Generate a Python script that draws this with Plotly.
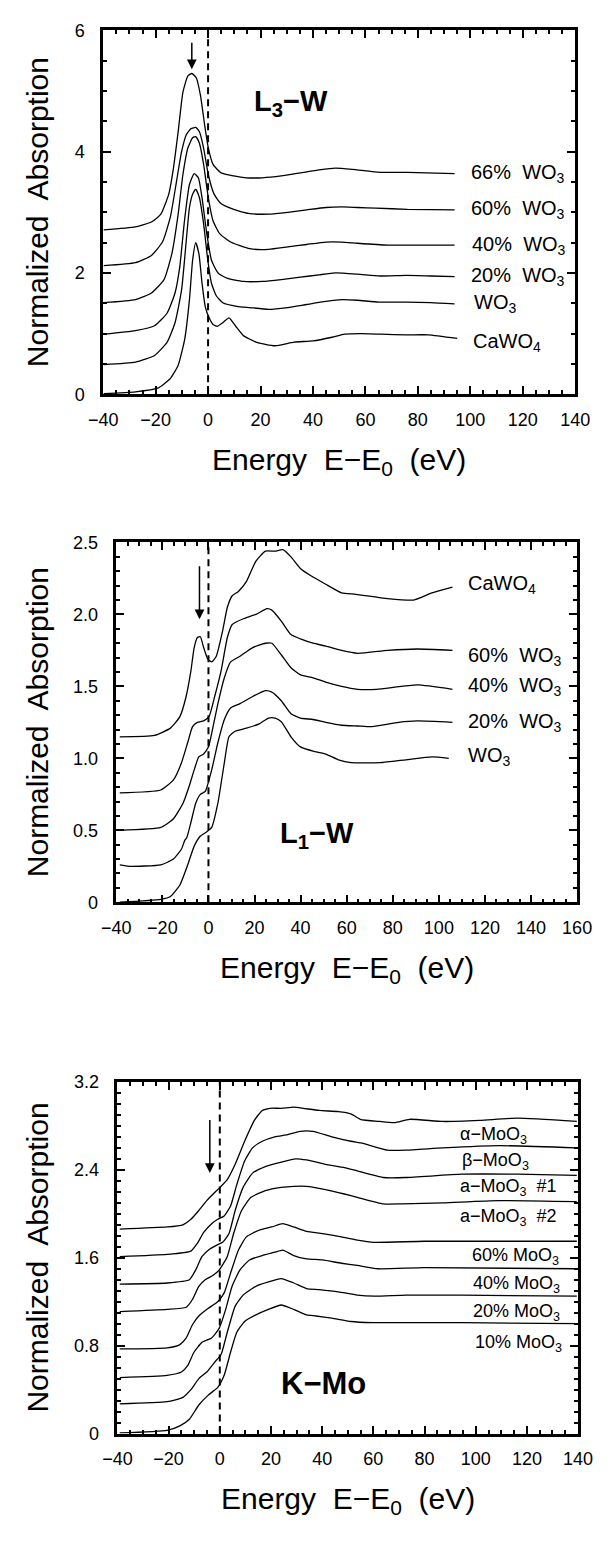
import plotly.graph_objects as go

# ---------------- Panel 1 : L3-W ----------------
L3_CaWO4_E = [-39.8, -27.7, -19.2, -14.4, -11.4, -8.9, -7.1, -5.9, -4.7, -3.5, -2.3, -1.1, 0.4, 1.9, 3.5, 5.6, 8.0, 10.4, 13.4, 18.3, 25.5, 32.8, 40.0, 47.3, 52.1, 58.0, 66.0, 75.5, 84.0, 95.0]
L3_CaWO4_A = [0.01, 0.04, 0.10, 0.26, 0.48, 0.91, 1.56, 2.21, 2.50, 2.32, 1.83, 1.45, 1.26, 1.15, 1.12, 1.18, 1.26, 1.13, 0.97, 0.86, 0.80, 0.86, 0.88, 0.94, 0.99, 1.00, 0.99, 0.98, 0.98, 0.92]
L3_WO3_E = [-39.8, -27.7, -20.4, -15.6, -12.6, -10.1, -8.3, -7.1, -5.9, -4.7, -3.3, -1.7, -0.1, 1.3, 3.2, 5.6, 11.0, 15.9, 23.1, 30.4, 37.6, 44.9, 51.0, 57.0, 65.0, 75.5, 85.0, 94.0]
L3_WO3_A = [0.49, 0.53, 0.64, 0.86, 1.18, 1.72, 2.54, 3.08, 3.30, 3.38, 3.24, 2.81, 2.21, 1.83, 1.62, 1.51, 1.45, 1.43, 1.40, 1.43, 1.48, 1.53, 1.56, 1.55, 1.52, 1.52, 1.51, 1.49]
L3_20_E = [-39.8, -27.7, -20.4, -15.6, -12.6, -10.8, -9.0, -7.1, -5.3, -3.7, -2.3, -0.5, 1.3, 3.8, 7.4, 13.4, 20.7, 27.9, 35.2, 42.4, 48.5, 57.0, 65.6, 75.5, 85.0, 94.0]
L3_20_A = [0.99, 1.05, 1.13, 1.34, 1.67, 2.10, 2.86, 3.46, 3.64, 3.57, 3.24, 2.65, 2.21, 2.00, 1.91, 1.86, 1.86, 1.89, 1.93, 1.97, 2.00, 1.98, 1.95, 1.96, 1.95, 1.94]
L3_40_E = [-39.8, -27.7, -21.6, -16.8, -13.8, -11.4, -9.6, -7.7, -5.9, -4.7, -3.3, -1.7, 0.1, 1.9, 4.4, 8.6, 15.9, 23.1, 30.4, 37.6, 44.9, 50.9, 57.0, 68.4, 80.0, 94.0]
L3_40_A = [1.51, 1.56, 1.67, 1.89, 2.32, 2.97, 3.62, 4.06, 4.23, 4.25, 4.14, 3.79, 3.24, 2.86, 2.65, 2.51, 2.40, 2.39, 2.43, 2.47, 2.51, 2.51, 2.49, 2.46, 2.46, 2.46]
L3_60_E = [-39.8, -27.7, -21.6, -17.4, -14.4, -12.0, -10.1, -8.3, -6.5, -4.7, -3.3, -1.7, 0.1, 2.3, 5.0, 9.8, 15.9, 23.1, 30.4, 37.6, 44.9, 50.9, 57.0, 64.0, 76.0, 94.0]
L3_60_A = [2.12, 2.17, 2.29, 2.51, 2.92, 3.52, 4.00, 4.28, 4.38, 4.40, 4.33, 4.06, 3.62, 3.30, 3.14, 3.05, 2.98, 2.97, 3.00, 3.04, 3.08, 3.09, 3.08, 3.07, 3.05, 3.04]
L3_66_E = [-39.8, -27.7, -21.6, -18.0, -15.0, -13.2, -11.4, -9.6, -7.7, -6.2, -4.5, -2.9, -1.3, 0.1, 1.9, 5.0, 9.8, 14.6, 20.7, 27.9, 35.2, 42.4, 48.5, 55.0, 65.6, 76.0, 94.0]
L3_66_A = [2.71, 2.76, 2.84, 2.97, 3.30, 3.73, 4.33, 4.98, 5.25, 5.29, 5.22, 4.93, 4.44, 4.06, 3.79, 3.65, 3.60, 3.57, 3.57, 3.60, 3.65, 3.70, 3.73, 3.71, 3.66, 3.66, 3.64]
L3_LABELS = ["66%  WO<sub>3</sub>", "60%  WO<sub>3</sub>", "40%  WO<sub>3</sub>", "20%  WO<sub>3</sub>", "WO<sub>3</sub>", "CaWO<sub>4</sub>"]
L3_LABEL_X = [99.5, 99.5, 100.0, 99.6, 100.8, 100.4]
L3_LABEL_Y = [3.64, 3.05, 2.46, 1.95, 1.49, 0.86]
L3_ARROW = (-6.2, 5.82, 5.36)

# ---------------- Panel 2 : L1-W ----------------
L1_WO3_E = [-38.5, -20.7, -16.5, -12.4, -9.0, -6.2, -3.5, -0.7, 1.4, 4.1, 6.9, 8.9, 11.7, 16.5, 22.0, 26.1, 28.9, 31.6, 35.8, 39.9, 45.4, 50.9, 56.4, 61.9, 74.4, 85.7, 97.0, 104.3]
L1_WO3_A = [0.00, 0.02, 0.04, 0.12, 0.26, 0.39, 0.46, 0.49, 0.52, 0.69, 0.97, 1.15, 1.19, 1.21, 1.24, 1.28, 1.28, 1.255, 1.15, 1.08, 1.05, 1.03, 0.99, 0.97, 0.97, 0.99, 1.01, 1.00]
L1_20_E = [-38.5, -34.4, -20.7, -15.2, -11.7, -10.3, -9.4, -7.6, -5.5, -3.5, -1.4, 1.4, 4.1, 6.9, 9.6, 13.7, 19.2, 24.7, 27.5, 31.6, 35.8, 39.9, 45.4, 50.9, 57.8, 64.7, 71.0, 82.5, 90.6, 105.9]
L1_20_A = [0.26, 0.25, 0.26, 0.30, 0.37, 0.43, 0.45, 0.556, 0.69, 0.75, 0.77, 0.92, 1.11, 1.27, 1.35, 1.38, 1.43, 1.47, 1.46, 1.40, 1.31, 1.28, 1.27, 1.25, 1.23, 1.225, 1.22, 1.25, 1.26, 1.25]
L1_40_E = [-38.5, -20.7, -15.2, -11.0, -8.3, -6.2, -4.2, -2.1, 0.0, 2.0, 4.1, 6.9, 9.6, 13.7, 19.2, 24.7, 27.5, 31.6, 35.8, 39.9, 45.4, 50.9, 57.8, 64.7, 73.0, 90.6, 105.9]
L1_40_A = [0.50, 0.52, 0.58, 0.69, 0.81, 0.92, 1.01, 1.03, 1.08, 1.22, 1.38, 1.56, 1.67, 1.71, 1.77, 1.80, 1.80, 1.72, 1.63, 1.58, 1.56, 1.53, 1.50, 1.48, 1.48, 1.51, 1.48]
L1_60_E = [-38.5, -20.7, -15.2, -11.7, -9.0, -6.9, -4.8, -2.1, 0.25, 2.7, 5.5, 8.2, 10.3, 15.1, 20.6, 25.4, 27.5, 31.6, 35.8, 39.9, 45.4, 50.9, 57.8, 64.7, 77.7, 90.6, 105.9]
L1_60_A = [0.76, 0.78, 0.85, 0.97, 1.11, 1.22, 1.25, 1.26, 1.29, 1.43, 1.61, 1.84, 1.93, 1.97, 2.00, 2.04, 2.03, 1.954, 1.86, 1.83, 1.80, 1.78, 1.75, 1.73, 1.75, 1.76, 1.75]
L1_CaWO4_E = [-38.5, -23.4, -16.5, -12.4, -9.7, -7.6, -6.2, -4.8, -3.5, -2.1, -0.3, 1.4, 3.4, 6.2, 8.2, 10.3, 13.0, 16.5, 20.6, 24.7, 28.9, 32.3, 35.8, 39.9, 45.4, 50.9, 57.8, 64.0, 77.7, 89.0, 97.0, 105.9]
L1_CaWO4_A = [1.15, 1.16, 1.21, 1.29, 1.43, 1.61, 1.77, 1.84, 1.845, 1.77, 1.69, 1.67, 1.71, 1.89, 2.05, 2.13, 2.16, 2.23, 2.37, 2.44, 2.44, 2.45, 2.40, 2.32, 2.26, 2.21, 2.15, 2.14, 2.11, 2.10, 2.15, 2.19]
L1_LABELS = ["CaWO<sub>4</sub>", "60%  WO<sub>3</sub>", "40%  WO<sub>3</sub>", "20%  WO<sub>3</sub>", "WO<sub>3</sub>"]
L1_LABEL_X = [111.6, 111.6, 111.6, 111.6, 111.9]
L1_LABEL_Y = [2.21, 1.71, 1.50, 1.25, 1.01]
L1_ARROW = (-3.9, 2.345, 1.966)

# ---------------- Panel 3 : K-Mo ----------------
K_10_E = [-39.1, -20.6, -15.6, -11.9, -8.2, -4.5, -0.8, 1.7, 4.2, 6.6, 9.7, 14.1, 19.0, 24.0, 28.9, 33.9, 37.6, 43.8, 51.2, 59.6, 72.7, 94.5, 139.5]
K_10_A = [0.006, 0.03, 0.07, 0.13, 0.26, 0.35, 0.42, 0.53, 0.74, 0.92, 1.02, 1.08, 1.13, 1.17, 1.13, 1.08, 1.07, 1.05, 1.02, 1.01, 1.01, 1.01, 1.00]
K_20_E = [-39.1, -20.6, -14.4, -11.3, -8.2, -5.1, -2.0, 0.5, 2.9, 6.0, 9.1, 14.1, 19.0, 24.0, 28.9, 33.9, 38.8, 46.3, 53.7, 60.3, 72.7, 94.5, 139.5]
K_20_A = [0.27, 0.29, 0.33, 0.40, 0.50, 0.56, 0.65, 0.72, 0.92, 1.16, 1.26, 1.34, 1.38, 1.41, 1.37, 1.32, 1.31, 1.29, 1.26, 1.25, 1.26, 1.26, 1.25]
K_40_E = [-39.1, -20.6, -15.0, -12.5, -10.1, -7.0, -3.2, -0.2, 2.3, 4.8, 7.9, 11.6, 16.6, 21.5, 24.6, 28.9, 33.9, 40.1, 47.5, 53.7, 61.8, 79.9, 139.5]
K_40_A = [0.51, 0.53, 0.56, 0.62, 0.74, 0.83, 0.87, 0.96, 1.13, 1.34, 1.49, 1.58, 1.62, 1.65, 1.67, 1.62, 1.59, 1.58, 1.55, 1.53, 1.50, 1.51, 1.50]
K_60_E = [-39.1, -20.6, -15.6, -13.1, -10.7, -8.2, -4.5, -0.8, 1.7, 4.2, 7.3, 10.4, 15.3, 20.3, 24.6, 28.9, 33.9, 40.1, 47.5, 53.7, 60.3, 79.9, 139.5]
K_60_A = [0.77, 0.78, 0.81, 0.87, 0.99, 1.07, 1.14, 1.20, 1.28, 1.46, 1.67, 1.79, 1.85, 1.88, 1.91, 1.88, 1.84, 1.82, 1.79, 1.76, 1.74, 1.75, 1.75]
K_A2_E = [-39.1, -20.6, -13.1, -10.7, -8.2, -5.7, -2.6, -0.2, 2.9, 5.4, 8.5, 12.2, 17.8, 24.0, 28.9, 33.9, 41.3, 48.7, 53.7, 63.9, 71.2, 87.2, 109.0, 139.5]
K_A2_A = [1.11, 1.13, 1.15, 1.22, 1.34, 1.40, 1.44, 1.49, 1.61, 1.82, 2.03, 2.15, 2.21, 2.24, 2.25, 2.25, 2.22, 2.18, 2.15, 2.09, 2.09, 2.10, 2.12, 2.11]
K_A1_E = [-39.1, -20.6, -11.9, -9.4, -7.0, -3.9, -0.8, 1.1, 3.6, 6.0, 9.1, 12.8, 17.8, 24.0, 29.6, 33.9, 41.3, 48.7, 53.7, 63.9, 72.7, 94.5, 116.3, 139.5]
K_A1_A = [1.36, 1.37, 1.40, 1.49, 1.61, 1.68, 1.72, 1.74, 1.82, 2.03, 2.24, 2.37, 2.43, 2.47, 2.50, 2.49, 2.45, 2.42, 2.39, 2.33, 2.33, 2.36, 2.36, 2.35]
K_B_E = [-39.1, -20.6, -11.3, -8.8, -6.3, -3.2, -0.8, 1.7, 4.2, 6.7, 9.7, 12.8, 16.6, 21.5, 26.5, 31.4, 36.4, 43.8, 51.2, 56.0, 65.4, 72.7, 87.2, 109.0, 139.5]
K_B_A = [1.61, 1.63, 1.66, 1.73, 1.83, 1.91, 1.95, 1.98, 2.07, 2.27, 2.48, 2.60, 2.66, 2.70, 2.72, 2.75, 2.75, 2.70, 2.66, 2.64, 2.58, 2.58, 2.60, 2.62, 2.60]
K_AL_E = [-39.1, -20.6, -14.4, -11.3, -8.2, -5.1, -2.6, 0.1, 2.9, 6.0, 9.7, 13.5, 16.6, 19.6, 24.0, 28.9, 32.6, 38.8, 46.3, 51.2, 54.9, 62.5, 68.3, 74.1, 87.2, 101.7, 116.3, 139.5]
K_AL_A = [1.86, 1.88, 1.90, 1.95, 2.03, 2.12, 2.18, 2.24, 2.31, 2.45, 2.66, 2.85, 2.94, 2.96, 2.96, 2.97, 2.96, 2.94, 2.93, 2.91, 2.86, 2.84, 2.83, 2.86, 2.84, 2.85, 2.87, 2.84]
K_LABELS_LEFT = ["α−MoO<sub>3</sub>", "β−MoO<sub>3</sub>", "a−MoO<sub>3</sub>  #1", "a−MoO<sub>3</sub>  #2"]
K_LABELS_LEFT_X = [93.0, 93.7, 93.0, 93.0]
K_LABELS_LEFT_Y = [2.71, 2.48, 2.24, 1.97]
K_LABELS_RIGHT = ["60% MoO<sub>3</sub>", "40% MoO<sub>3</sub>", "20% MoO<sub>3</sub>", "10% MoO<sub>3</sub>"]
K_LABELS_RIGHT_X = [133.2, 133.6, 133.6, 134.4]
K_LABELS_RIGHT_Y = [1.61, 1.36, 1.10, 0.82]
K_ARROW = (-3.9, 2.866, 2.372)

E0_LINE = 0

# ---------------- figure ----------------
W, H = 614, 1541
FONT = "Liberation Sans, Arial, Helvetica, sans-serif"

def py(p):
    return 1 - p / H

def px(p):
    return p / W

fig = go.Figure()

panels = [
    dict(ax="", curves=[(L3_CaWO4_E, L3_CaWO4_A), (L3_WO3_E, L3_WO3_A), (L3_20_E, L3_20_A),
                        (L3_40_E, L3_40_A), (L3_60_E, L3_60_A), (L3_66_E, L3_66_A)]),
    dict(ax="2", curves=[(L1_WO3_E, L1_WO3_A), (L1_20_E, L1_20_A), (L1_40_E, L1_40_A),
                         (L1_60_E, L1_60_A), (L1_CaWO4_E, L1_CaWO4_A)]),
    dict(ax="3", curves=[(K_10_E, K_10_A), (K_20_E, K_20_A), (K_40_E, K_40_A), (K_60_E, K_60_A),
                         (K_A2_E, K_A2_A), (K_A1_E, K_A1_A), (K_B_E, K_B_A), (K_AL_E, K_AL_A)]),
]

for p in panels:
    for e, a in p["curves"]:
        fig.add_trace(go.Scatter(x=e, y=a, mode="lines", xaxis="x" + p["ax"], yaxis="y" + p["ax"],
                                 line=dict(color="black", width=1.3, shape="spline", smoothing=0.5),
                                 showlegend=False, hoverinfo="skip"))

def mnum(v):
    return ("%g" % v).replace("-", "−")

TICKFONT = dict(family=FONT, size=18, color="black")

def tick_common(minor, show_labels=True, color="black"):
    return dict(ticks="inside", ticklen=8, tickwidth=2, tickcolor=color,
                showgrid=False, zeroline=False, showticklabels=show_labels,
                tickfont=TICKFONT,
                minor=dict(ticks="inside", ticklen=4, tickwidth=2, tickcolor=color,
                           dtick=minor, tick0=0, showgrid=False))

def xaxis_cfg(domain, anchor, rng, major, minor):
    vals = list(range(rng[0], rng[1] + 1, major))
    d = dict(domain=domain, anchor=anchor, range=rng, tickmode="array", tickvals=vals,
             ticktext=[mnum(v) for v in vals], showline=True, linewidth=2.5, linecolor="black",
             mirror=True, ticklabelstandoff=7)
    d.update(tick_common(minor))
    return d

def xaxis_top(over, anchor, rng, major, minor):
    vals = list(range(rng[0], rng[1] + 1, major))
    d = dict(overlaying=over, anchor=anchor, side="top", range=rng, tickmode="array",
             tickvals=vals, showline=False)
    d.update(tick_common(minor, False))
    return d

def yaxis_cfg(domain, anchor, rng, vals, texts, minor):
    d = dict(domain=domain, anchor=anchor, range=rng, tickmode="array", tickvals=vals,
             ticktext=texts, showline=True, linewidth=2.5, linecolor="black", mirror=True,
             ticklabelstandoff=12)
    d.update(tick_common(minor))
    return d

def yaxis_right(over, anchor, rng, vals, minor):
    d = dict(overlaying=over, anchor=anchor, side="right", range=rng, tickmode="array",
             tickvals=vals, showline=False)
    d.update(tick_common(minor, False))
    return d

P1 = dict(l=92.7, r=589.0, t=20.7, b=389.3)
P2 = dict(l=106.5, r=591.0, t=539.5, b=904.0)
P3 = dict(l=107.7, r=592.0, t=1086.0, b=1442.3)

def dom(P):
    return [px(P["l"]), px(P["r"])], [py(P["b"]), py(P["t"])]

d1x, d1y = dom(P1)
d2x, d2y = dom(P2)
d3x, d3y = dom(P3)

Y1_VALS = [0, 2, 4, 6]
Y2_VALS = [0, 0.5, 1.0, 1.5, 2.0, 2.5]
Y2_TEXT = ["0", "0.5", "1.0", "1.5", "2.0", "2.5"]
Y3_VALS = [0, 0.8, 1.6, 2.4, 3.2]
Y3_TEXT = ["0", "0.8", "1.6", "2.4", "3.2"]

fig.update_layout(
    width=W, height=H, margin=dict(l=0, r=0, t=0, b=0),
    paper_bgcolor="white", plot_bgcolor="white", showlegend=False,
    xaxis=xaxis_cfg(d1x, "y", [-40, 140], 20, 5),
    yaxis=yaxis_cfg(d1y, "x", [0, 6], Y1_VALS, [str(v) for v in Y1_VALS], 0.5),
    xaxis2=xaxis_cfg(d2x, "y2", [-40, 160], 20, 5),
    yaxis2=yaxis_cfg(d2y, "x2", [0, 2.5], Y2_VALS, Y2_TEXT, 0.1),
    xaxis3=xaxis_cfg(d3x, "y3", [-40, 140], 20, 5),
    yaxis3=yaxis_cfg(d3y, "x3", [0, 3.2], Y3_VALS, Y3_TEXT, 0.1),
    # mirrored tick axes on top / right
    xaxis4=xaxis_top("x", "y", [-40, 140], 20, 5),
    yaxis4=yaxis_right("y", "x", [0, 6], Y1_VALS, 0.5),
    xaxis5=xaxis_top("x2", "y2", [-40, 160], 20, 5),
    yaxis5=yaxis_right("y2", "x2", [0, 2.5], Y2_VALS, 0.1),
    xaxis6=xaxis_top("x3", "y3", [-40, 140], 20, 5),
    yaxis6=yaxis_right("y3", "x3", [0, 3.2], Y3_VALS, 0.1),
)

for xa, ya in [("x4", "y4"), ("x5", "y5"), ("x6", "y6")]:
    fig.add_trace(go.Scatter(x=[None], y=[None], xaxis=xa, yaxis=ya, mode="lines",
                             showlegend=False, hoverinfo="skip"))

shapes = []
for ax in ["", "2", "3"]:
    shapes.append(dict(type="line", xref="x" + ax, yref="y" + ax + " domain", x0=E0_LINE, x1=E0_LINE,
                       y0=0, y1=1, line=dict(color="black", width=2, dash="7px,5px")))
fig.update_layout(shapes=shapes)

ann = []
def label(ax, x, y, text, size, xanchor="left", bold=False):
    if bold:
        text = "<b>" + text + "</b>"
    ann.append(dict(xref="x" + ax, yref="y" + ax, x=x, y=y, text=text, showarrow=False,
                    xanchor=xanchor, yanchor="middle",
                    font=dict(family=FONT, size=size, color="black")))

for t, x, y in zip(L3_LABELS, L3_LABEL_X, L3_LABEL_Y):
    label("", x, y, t, 20)
for t, x, y in zip(L1_LABELS, L1_LABEL_X, L1_LABEL_Y):
    label("2", x, y, t, 20)
for t, x, y in zip(K_LABELS_LEFT, K_LABELS_LEFT_X, K_LABELS_LEFT_Y):
    label("3", x, y, t, 18)
for t, x, y in zip(K_LABELS_RIGHT, K_LABELS_RIGHT_X, K_LABELS_RIGHT_Y):
    label("3", x, y, t, 18, xanchor="right")

label("", 31.5, 4.80, "L<sub>3</sub>−W", 29, xanchor="center", bold=True)
label("2", 47.1, 0.47, "L<sub>1</sub>−W", 29, xanchor="center", bold=True)
label("3", 40.5, 0.46, "K−Mo", 31, xanchor="center", bold=True)

for ax, (xa, yt, yh) in zip(["", "2", "3"], [L3_ARROW, L1_ARROW, K_ARROW]):
    ann.append(dict(xref="x" + ax, yref="y" + ax, axref="x" + ax, ayref="y" + ax,
                    x=xa, y=yh, ax=xa, ay=yt, text="", showarrow=True,
                    arrowhead=2, arrowsize=1.3, arrowwidth=1.5, arrowcolor="black", standoff=0))

for P in [P1, P2, P3]:
    cx = (P["l"] + P["r"]) / 2
    ann.append(dict(xref="paper", yref="paper", x=px(cx), y=py(P["b"] + 68), text="Energy  E−E<sub>0</sub>  (eV)",
                    showarrow=False, xanchor="center", yanchor="middle",
                    font=dict(family=FONT, size=30, color="black")))
    cy = (P["t"] + P["b"]) / 2
    ann.append(dict(xref="paper", yref="paper", x=px(24), y=py(cy), text="Normalized  Absorption",
                    textangle=-90, showarrow=False, xanchor="center", yanchor="middle",
                    font=dict(family=FONT, size=30, color="black")))

fig.update_layout(annotations=ann)
fig.write_html("out.html")
